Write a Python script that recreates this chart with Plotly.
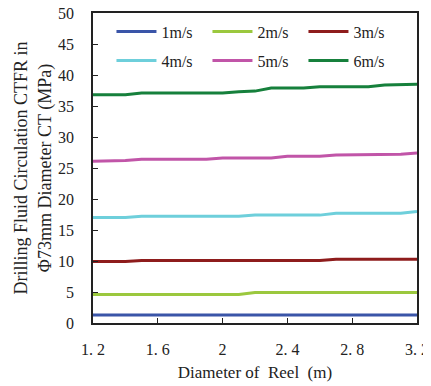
import plotly.graph_objects as go

reel_diameter = [1.2, 1.3, 1.4, 1.5, 1.6, 1.7, 1.8, 1.9, 2.0, 2.1, 2.2,
                 2.3, 2.4, 2.5, 2.6, 2.7, 2.8, 2.9, 3.0, 3.1, 3.2]

v1 = [1.3] * 21
v2 = [4.6, 4.6, 4.6, 4.6, 4.6, 4.6, 4.6, 4.6, 4.6, 4.6, 4.9,
      4.9, 4.9, 4.9, 4.9, 4.9, 4.9, 4.9, 4.9, 4.9, 4.9]
v3 = [9.9, 9.9, 9.9, 10.1, 10.1, 10.1, 10.1, 10.1, 10.1, 10.1, 10.1,
      10.1, 10.1, 10.1, 10.1, 10.3, 10.3, 10.3, 10.3, 10.3, 10.3]
v4 = [17.0, 17.0, 17.0, 17.2, 17.2, 17.2, 17.2, 17.2, 17.2, 17.2, 17.4,
      17.4, 17.4, 17.4, 17.4, 17.7, 17.7, 17.7, 17.7, 17.7, 18.0]
v5 = [26.1, 26.1, 26.2, 26.4, 26.4, 26.4, 26.4, 26.4, 26.6, 26.6, 26.6,
      26.6, 26.9, 26.9, 26.9, 27.1, 27.1, 27.1, 27.1, 27.2, 27.4]
v6 = [36.8, 36.8, 36.8, 37.1, 37.1, 37.1, 37.1, 37.1, 37.1, 37.3, 37.4,
      37.9, 37.9, 37.9, 38.1, 38.1, 38.1, 38.1, 38.4, 38.4, 38.5]

series_names = ["1m/s", "2m/s", "3m/s", "4m/s", "5m/s", "6m/s"]
series_values = [v1, v2, v3, v4, v5, v6]
colors = ["#3A55A8", "#9BC83E", "#8E1C1C", "#6ECFDB", "#C155A8", "#16803C"]

x_tickvals = [1.2, 1.6, 2.0, 2.4, 2.8, 3.2]
x_ticktext = ["1. 2", "1. 6", "2", "2. 4", "2. 8", "3. 2"]
y_tickvals = [0, 5, 10, 15, 20, 25, 30, 35, 40, 45, 50]

FONT = "Liberation Serif"

fig = go.Figure()
for i, (name, vals, col) in enumerate(zip(series_names, series_values, colors)):
    fig.add_trace(go.Scatter(
        x=reel_diameter, y=vals, mode="lines", name=name,
        line=dict(color=col, width=3),
        legend="legend" if i < 3 else "legend2",
    ))

legend_common = dict(
    orientation="h", xanchor="left", yanchor="top",
    bgcolor="rgba(0,0,0,0)", entrywidth=41, tracegroupgap=0,
    font=dict(family=FONT, size=16, color="#222"),
    itemwidth=40,
)

# the page body has an 8px margin, so the figure is 8px smaller and offset
fig.update_layout(
    width=423, height=378,
    margin=dict(l=85, r=14, t=5, b=63, autoexpand=False),
    paper_bgcolor="white", plot_bgcolor="white",
    font=dict(family=FONT, size=15, color="#222"),
    showlegend=True,
    legend=dict(x=0.057, y=0.995, **legend_common),
    legend2=dict(x=0.057, y=0.9015, **legend_common),
    xaxis=dict(
        range=[1.2, 3.2], tickvals=x_tickvals, ticktext=x_ticktext,
        ticks="inside", ticklen=5, tickcolor="#222",
        showline=True, linecolor="#222", linewidth=1.5, mirror=True,
        showgrid=False, zeroline=False, ticklabelstandoff=11,
        ticklabeloverflow="allow",
        tickfont=dict(family=FONT, size=16),
        title=dict(text="Diameter of  Reel  (m)", font=dict(family=FONT, size=17), standoff=9),
    ),
    yaxis=dict(
        range=[0, 50], tickvals=y_tickvals,
        ticks="inside", ticklen=5, tickcolor="#222",
        showline=True, linecolor="#222", linewidth=1.5, mirror=True,
        showgrid=False, zeroline=False, ticklabelstandoff=14,
        ticklabeloverflow="allow",
        tickfont=dict(family=FONT, size=16),
        title=dict(text="Drilling Fluid Circulation CTFR in<br>Φ73mm Diameter CT (MPa)",
                   font=dict(family=FONT, size=18), standoff=2),
    ),
)

fig.write_html("out.html")
